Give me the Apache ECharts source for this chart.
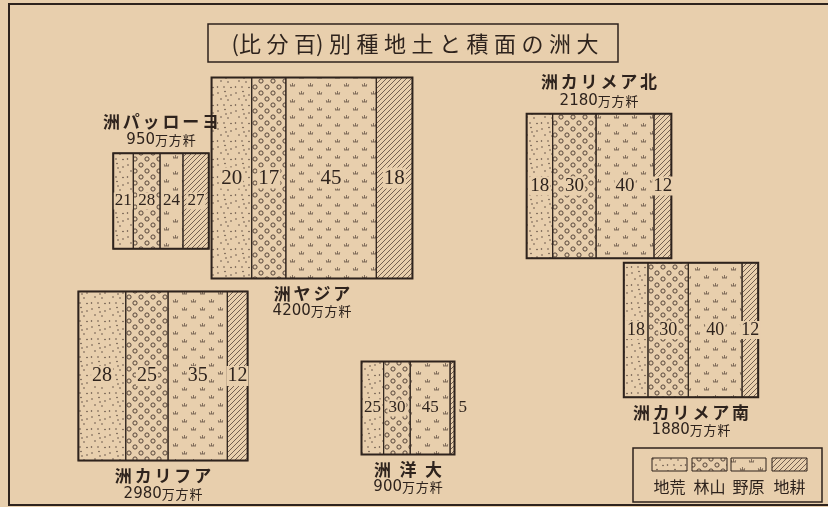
<!DOCTYPE html>
<html>
<head>
<meta charset="utf-8">
<script src="https://cdn.jsdelivr.net/npm/echarts@6/dist/echarts.min.js"></script>
<style>
html, body { margin: 0; padding: 0; background: #e8cfad; }
#main { width: 828px; height: 507px; }
</style>
</head>
<body>
<div id="main"></div>
<script>
// 大洲の面積と土地種別(百分比) -- labels kept as printed (right to left)
var titleText = '(比分百)別種地土と積面の洲大';
var names = ['洲パッローヨ', '洲ヤジア', '洲カリメア北', '洲カリメア南', '洲カリフア', '洲\u2002洋\u2002大'];
var areas = [950, 4200, 2180, 1880, 2980, 900];   // 万方粁
var landTypes = ['地荒', '林山', '野原', '地耕'];
var waste  = [21, 20, 18, 18, 28, 25];
var forest = [28, 17, 30, 30, 25, 30];
var field  = [24, 45, 40, 40, 35, 45];
var arable = [27, 18, 12, 12, 12, 5];

// layout only: where each square sits and on which side its caption goes
var boxCenter = [[161, 201], [312, 178], [599, 186], [691, 330], [163, 376], [408, 408]];
var captionSide = ['top', 'bottom', 'top', 'bottom', 'bottom', 'bottom'];
var sideScale = 3.1;   // px per sqrt(万方粁)

var ink = '#2e231d';
var paper = '#e8cfad';
var cjk = '"Noto Sans CJK JP", "Noto Sans CJK SC", sans-serif';
var serif = '"Liberation Serif", "DejaVu Serif", serif';

function spaced(s, sep) {
    var out = '';
    for (var i = 0; i < s.length; i++) {
        out += s[i];
        if (i < s.length - 1 && s[i] !== '(' && s[i + 1] !== ')' && s[i] !== ' ' && s[i + 1] !== '\u2002' && s[i] !== '\u2002') out += sep;
    }
    return out;
}

function makeTile(w, h, draw) {
    var c = document.createElement('canvas');
    c.width = w; c.height = h;
    var ctx = c.getContext('2d');
    ctx.strokeStyle = '#55443a';
    ctx.fillStyle = '#55443a';
    ctx.lineWidth = 1;
    draw(ctx);
    return { image: c, repeat: 'repeat' };
}

var patterns = [
    // 荒地: fine dots
    makeTile(18, 18, function (ctx) {
        [[2, 3], [9, 1.5], [15, 5], [5, 9], [12, 10], [1.5, 15], [8, 15], [15, 15.5], [10, 6]].forEach(function (p) {
            ctx.beginPath(); ctx.arc(p[0], p[1], 0.75, 0, Math.PI * 2); ctx.fill();
        });
    }),
    // 山林: small rings
    makeTile(12, 12, function (ctx) {
        [[3, 3], [9, 9]].forEach(function (p) {
            ctx.beginPath(); ctx.arc(p[0], p[1], 2.1, 0, Math.PI * 2); ctx.stroke();
        });
    }),
    // 原野: grass tufts
    makeTile(18, 16, function (ctx) {
        ctx.lineWidth = 0.8;
        ctx.strokeStyle = '#6a584a';
        [[4.5, 6], [13.5, 14]].forEach(function (p) {
            var x = p[0], y = p[1];
            ctx.beginPath();
            ctx.moveTo(x - 2.5, y); ctx.lineTo(x + 2.5, y);
            ctx.moveTo(x, y); ctx.lineTo(x, y - 3);
            ctx.moveTo(x - 1.6, y); ctx.lineTo(x - 2.2, y - 1.8);
            ctx.moveTo(x + 1.6, y); ctx.lineTo(x + 2.2, y - 1.8);
            ctx.stroke();
        });
    }),
    // 耕地: diagonal hatching
    makeTile(5, 5, function (ctx) {
        ctx.lineWidth = 0.8;
        ctx.beginPath();
        ctx.moveTo(-1, 6); ctx.lineTo(6, -1);
        ctx.moveTo(-1, 1); ctx.lineTo(1, -1);
        ctx.moveTo(4, 6); ctx.lineTo(6, 4);
        ctx.stroke();
    })
];

var boxData = names.map(function (n, i) {
    return [boxCenter[i][0], boxCenter[i][1], areas[i], waste[i], forest[i], field[i], arable[i], i];
});

function renderBox(params, api) {
    var i = api.value(7);
    var c = api.coord([api.value(0), api.value(1)]);
    var side = api.size([sideScale * Math.sqrt(api.value(2)), 0])[0];
    var x0 = c[0] - side / 2, y0 = c[1] - side / 2;
    var shares = [api.value(3), api.value(4), api.value(5), api.value(6)];
    var total = shares.reduce(function (a, b) { return a + b; }, 0);
    var numSize = Math.round(13 + side * 0.04);
    var children = [], labels = [];
    var x = x0;
    shares.forEach(function (p, k) {
        var w = side * p / total;
        children.push({
            type: 'rect',
            shape: { x: x, y: y0, width: w, height: side },
            style: { fill: patterns[k], stroke: ink, lineWidth: 1 }
        });
        var narrow = w < 12;
        labels.push({
            type: 'text',
            style: {
                text: String(p),
                x: narrow ? x0 + side + 3 : x + w / 2,
                y: c[1],
                align: narrow ? 'left' : 'center',
                verticalAlign: 'middle',
                font: numSize + 'px ' + serif,
                fill: ink,
                backgroundColor: paper,
                padding: [0, 1]
            }
        });
        x += w;
    });
    children.push({
        type: 'rect',
        shape: { x: x0, y: y0, width: side, height: side },
        style: { fill: 'none', stroke: ink, lineWidth: 2 }
    });
    var top = captionSide[i] === 'top';
    var nameY = top ? y0 - 32 : y0 + side + 15;
    var areaY = top ? y0 - 13 : y0 + side + 33;
    labels.push({
        type: 'text',
        style: {
            text: spaced(names[i], '\u2006'), x: c[0], y: nameY, align: 'center', verticalAlign: 'middle',
            font: 'bold 17px ' + cjk, fill: ink
        }
    });
    labels.push({
        type: 'text',
        style: {
            text: '{n|' + areas[i] + '}{u|' + spaced('万方粁', '\u200A') + '}', x: c[0], y: areaY, align: 'center', verticalAlign: 'middle',
            fill: ink,
            rich: {
                n: { fontSize: 15, fontFamily: '"DejaVu Sans", sans-serif', fill: ink },
                u: { fontSize: 13, fontFamily: cjk, fill: ink }
            }
        }
    });
    return { type: 'group', children: children.concat(labels) };
}

// legend swatches
var legendX = [652, 692, 731, 772];
var legendGraphics = [
    { type: 'rect', shape: { x: 633, y: 448, width: 189, height: 54 }, style: { fill: 'none', stroke: ink, lineWidth: 1.5 } }
];
landTypes.forEach(function (t, k) {
    legendGraphics.push({
        type: 'rect', shape: { x: legendX[k], y: 458, width: 35, height: 13 },
        style: { fill: patterns[k], stroke: ink, lineWidth: 1 }
    });
    legendGraphics.push({
        type: 'text', x: legendX[k] + 17.5, y: 487,
        style: { text: t, align: 'center', verticalAlign: 'middle', font: '16px ' + cjk, fill: ink }
    });
});

var myChart = echarts.init(document.getElementById('main'));
var option = {
    backgroundColor: paper,
    animation: false,
    grid: { left: 0, right: 0, top: 0, bottom: 0 },
    xAxis: { type: 'value', min: 0, max: 828, show: false },
    yAxis: { type: 'value', min: 0, max: 507, inverse: true, show: false },
    graphic: [
        { type: 'rect', shape: { x: 9, y: 4, width: 830, height: 501 }, style: { fill: 'none', stroke: ink, lineWidth: 2 } },
        { type: 'rect', shape: { x: 208, y: 24, width: 410, height: 38 }, style: { fill: 'none', stroke: ink, lineWidth: 1.5 } },
        {
            type: 'text', x: 415, y: 44,
            style: { text: spaced(titleText, '\u2005'), align: 'center', verticalAlign: 'middle', font: '22px ' + cjk, fill: ink }
        }
    ].concat(legendGraphics),
    series: [{
        type: 'custom',
        renderItem: renderBox,
        data: boxData,
        silent: true
    }]
};
myChart.setOption(option);
</script>
</body>
</html>
